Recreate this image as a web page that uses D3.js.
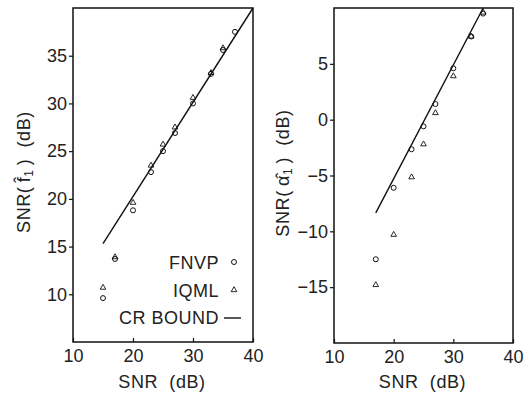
<!DOCTYPE html>
<html>
<head>
<meta charset="utf-8">
<script src="https://cdn.jsdelivr.net/npm/d3@7"></script>
<style>
  body { margin: 0; background: #fff; }
  svg { display: block; font-family: "Liberation Sans", Arial, sans-serif; }
</style>
</head>
<body>
<svg id="chart" width="524" height="397"></svg>
<script>
// shared x ticks
const xTicks = [10, 20, 30, 40];

// left panel: SNR(f1)
const leftYTicks = [10, 15, 20, 25, 30, 35];
const leftFnvpSnr = [15, 17, 20, 23, 25, 27, 30, 33, 35, 37];
const leftFnvp = [9.6, 13.7, 18.8, 22.8, 25.0, 26.9, 30.0, 33.1, 35.6, 37.5];
const leftIqmlSnr = [15, 17, 20, 23, 25, 27, 30, 33, 35];
const leftIqml = [10.7, 13.9, 19.6, 23.5, 25.7, 27.5, 30.6, 33.2, 35.8];
const leftCrSnr = [15, 40];
const leftCr = [15.3, 40];

// right panel: SNR(alpha1)
const rightYTicks = [-15, -10, -5, 0, 5];
const rightFnvpSnr = [17, 20, 23, 25, 27, 30, 33, 35];
const rightFnvp = [-12.5, -6.1, -2.65, -0.6, 1.4, 4.6, 7.45, 9.5];
const rightIqmlSnr = [17, 20, 23, 25, 27, 30, 33, 35];
const rightIqml = [-14.8, -10.3, -5.15, -2.2, 0.6, 3.9, 7.45, 9.6];
const rightCrSnr = [17, 35];
const rightCr = [-8.35, 10];

const legendNames = ["FNVP", "IQML", "CR BOUND"];

const svg = d3.select("#chart");
const FS = 18;

function panel(o) {
  const x = d3.scaleLinear().domain([10, 40]).range([o.left, o.right]);
  const y = d3.scaleLinear().domain(o.yDomain).range([o.bottom, o.top]);
  const g = svg.append("g");

  // y axis, outward ticks
  const ya = g.append("g").attr("transform", "translate(" + o.left + ",0)")
    .call(d3.axisLeft(y).tickValues(o.yTicks).tickSize(4).tickPadding(2));
  // x axis, inward ticks
  const xa = g.append("g").attr("transform", "translate(0," + o.bottom + ")")
    .call(d3.axisBottom(x).tickValues(xTicks).tickSizeInner(-4).tickSizeOuter(0).tickPadding(7));
  [ya, xa].forEach(function(a) {
    a.select(".domain").remove();
    a.selectAll("line").attr("stroke", "#111").attr("stroke-width", 1.2);
    a.selectAll("text").attr("font-size", FS).attr("fill", "#222")
      .attr("font-family", "Liberation Sans, Arial, sans-serif");
  });

  // frame
  g.append("rect").attr("x", o.left).attr("y", o.top)
    .attr("width", o.right - o.left).attr("height", o.bottom - o.top)
    .attr("fill", "none").attr("stroke", "#111").attr("stroke-width", 1.5);

  // CR bound line
  const line = d3.line().x(function(d) { return x(d[0]); }).y(function(d) { return y(d[1]); });
  g.append("path").datum(d3.zip(o.crSnr, o.cr)).attr("d", line)
    .attr("fill", "none").attr("stroke", "#111").attr("stroke-width", 1.4);

  // FNVP circles
  g.selectAll(".fnvp").data(d3.zip(o.fnvpSnr, o.fnvp)).enter().append("circle")
    .attr("cx", function(d) { return x(d[0]); }).attr("cy", function(d) { return y(d[1]); })
    .attr("r", 2.5).attr("fill", "none").attr("stroke", "#111").attr("stroke-width", 1);

  // IQML triangles
  const tri = d3.symbol().type(d3.symbolTriangle).size(14);
  g.selectAll(".iqml").data(d3.zip(o.iqmlSnr, o.iqml)).enter().append("path")
    .attr("d", tri)
    .attr("transform", function(d) { return "translate(" + x(d[0]) + "," + y(d[1]) + ")"; })
    .attr("fill", "none").attr("stroke", "#111").attr("stroke-width", 0.9);

  // x title
  g.append("text").attr("x", (o.left + o.right) / 2 - 1).attr("y", 388)
    .attr("text-anchor", "middle").attr("font-size", FS).attr("fill", "#222")
    .attr("letter-spacing", 0.6)
    .text("SNR\u00a0\u00a0(dB)");

  // y title (rotated)
  const t = g.append("text")
    .attr("transform", "translate(" + o.titleX + "," + o.titleY + ") rotate(-90)")
    .attr("text-anchor", "middle").attr("font-size", FS).attr("fill", "#222")
    .attr("letter-spacing", 0.6);
  t.append("tspan").text("SNR(\u2009" + o.sym + "\u0302");
  t.append("tspan").attr("font-size", 12).attr("dy", 3).text("1");
  t.append("tspan").attr("dy", -3).text("\u2009)\u00a0\u00a0(dB)");

  return { x: x, y: y, g: g };
}

const L = panel({
  left: 73, right: 253, top: 8, bottom: 342, yDomain: [5, 40], yTicks: leftYTicks,
  fnvpSnr: leftFnvpSnr, fnvp: leftFnvp, iqmlSnr: leftIqmlSnr, iqml: leftIqml,
  crSnr: leftCrSnr, cr: leftCr, sym: "f", titleX: 30, titleY: 172
});

panel({
  left: 334, right: 513, top: 8, bottom: 343, yDomain: [-20, 10], yTicks: rightYTicks,
  fnvpSnr: rightFnvpSnr, fnvp: rightFnvp, iqmlSnr: rightIqmlSnr, iqml: rightIqml,
  crSnr: rightCrSnr, cr: rightCr, sym: "\u03b1", titleX: 289, titleY: 173
});

// legend inside left panel
const legY = [269, 297, 324];
const leg = L.g.append("g");
leg.selectAll("text").data(legendNames).enter().append("text")
  .attr("x", 219).attr("y", function(d, i) { return legY[i]; })
  .attr("text-anchor", "end").attr("font-size", FS).attr("fill", "#222")
  .attr("letter-spacing", 0.5)
  .text(function(d) { return d; });
leg.append("circle").attr("cx", 234).attr("cy", legY[0] - 7).attr("r", 2.5)
  .attr("fill", "none").attr("stroke", "#111").attr("stroke-width", 1);
leg.append("path").attr("d", d3.symbol().type(d3.symbolTriangle).size(14))
  .attr("transform", "translate(234," + (legY[1] - 7) + ")")
  .attr("fill", "none").attr("stroke", "#111").attr("stroke-width", 0.9);
leg.append("line").attr("x1", 224).attr("x2", 241)
  .attr("y1", legY[2] - 6).attr("y2", legY[2] - 6)
  .attr("stroke", "#111").attr("stroke-width", 1.4);
</script>
</body>
</html>
